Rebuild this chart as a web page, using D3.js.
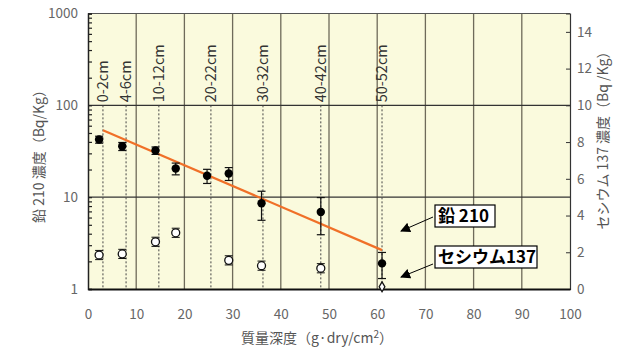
<!DOCTYPE html>
<html>
<head>
<meta charset="utf-8">
<script src="https://cdn.jsdelivr.net/npm/d3@7"></script>
<style>
  body { margin: 0; background: #fff; }
  text { font-family: "Noto Sans CJK JP", "Noto Sans", sans-serif; }
</style>
</head>
<body>
<script>
const width = 635;
const height = 352;
const margin = { top: 13.5, right: 65, bottom: 63, left: 88 };

// sampling depths (label + mass depth)
const depthLabels = ['0-2cm', '4-6cm', '10-12cm', '20-22cm', '30-32cm', '40-42cm', '50-52cm'];
const depthMass = [3.1, 7.9, 14.7, 25.5, 36.3, 48.3, 61.0];

// Pb-210 (left, log)
const pbMass = [2.3, 7.1, 14.0, 18.2, 24.7, 29.2, 36.0, 48.3, 61.0];
const pbValue = [42.4, 35.8, 32.2, 20.5, 17.1, 18.1, 8.6, 6.9, 1.9];
const pbError = [3.7, 3.6, 3.0, 3.0, 3.0, 2.9, 3.0, 3.0, 0.6];

// Cs-137 (right, linear)
const csMass = [2.3, 7.1, 14.0, 18.2, 29.2, 36.0, 48.3, 61.0];
const csValue = [1.85, 1.91, 2.57, 3.06, 1.56, 1.27, 1.13, 0.12];
const csError = [0.25, 0.25, 0.25, 0.25, 0.25, 0.25, 0.25, 0];

// Pb-210 fit line
const fitMass = [3.1, 61.0];
const fitValue = [53.5, 2.65];

const xTicks = [0, 10, 20, 30, 40, 50, 60, 70, 80, 90, 100];
const yLeftTicks = [1, 10, 100, 1000];
const yRightTicks = [0, 2, 4, 6, 8, 10, 12, 14];

const svg = d3.select('body').append('svg')
    .attr('width', width)
    .attr('height', height);

const x = d3.scaleLinear().domain([0, 100]).range([margin.left, width - margin.right]);
const yL = d3.scaleLog().domain([1, 1000]).range([height - margin.bottom, margin.top]);
const yR = d3.scaleLinear().domain([0, 15]).range([height - margin.bottom, margin.top]);

const x0 = margin.left, x1 = width - margin.right;
const y0 = height - margin.bottom, y1 = margin.top;

// plot background
svg.append('rect')
    .attr('x', x0).attr('y', y1)
    .attr('width', x1 - x0).attr('height', y0 - y1)
    .attr('fill', '#fafadd');

// vertical grid
svg.append('g').selectAll('line')
    .data(xTicks.filter(d => d > 0 && d < 100))
    .enter().append('line')
    .attr('x1', d => x(d)).attr('x2', d => x(d))
    .attr('y1', y1).attr('y2', y0)
    .attr('stroke', '#6e6a5a').attr('stroke-width', 1.3);

// horizontal grid
svg.append('g').selectAll('line')
    .data([10, 100])
    .enter().append('line')
    .attr('x1', x0).attr('x2', x1)
    .attr('y1', d => yL(d)).attr('y2', d => yL(d))
    .attr('stroke', '#333').attr('stroke-width', 1.2);

// dotted depth lines
svg.append('g').selectAll('line')
    .data(depthMass)
    .enter().append('line')
    .attr('x1', d => x(d)).attr('x2', d => x(d))
    .attr('y1', yL(100)).attr('y2', y0)
    .attr('stroke', '#444').attr('stroke-width', 1)
    .attr('stroke-dasharray', '2,2');

// depth labels
svg.append('g').selectAll('text')
    .data(depthLabels)
    .enter().append('text')
    .attr('transform', (d, i) => `translate(${x(depthMass[i]) + 5},${yL(100) - 3}) rotate(-90)`)
    .attr('font-size', 14.5)
    .attr('fill', '#333')
    .text(d => d);

// frame
svg.append('line').attr('x1', x0).attr('x2', x1).attr('y1', y1).attr('y2', y1)
    .attr('stroke', '#555').attr('stroke-width', 1);

// left axis
const logMinor = [];
[1, 10, 100].forEach(b => { for (let k = 2; k <= 9; k++) logMinor.push(b * k); });
const leftAxis = d3.axisRight(yL).tickValues(logMinor.concat(yLeftTicks)).tickSize(4).tickFormat('');
const gL = svg.append('g').attr('transform', `translate(${x0},0)`).call(leftAxis);
gL.select('.domain').attr('stroke', '#222').attr('stroke-width', 1.5);
gL.selectAll('.tick line').attr('stroke', '#222').attr('stroke-width', 1.2);
svg.append('g').selectAll('text')
    .data(yLeftTicks)
    .enter().append('text')
    .attr('x', x0 - 10).attr('y', d => yL(d))
    .attr('dy', '0.35em')
    .attr('text-anchor', 'end')
    .attr('font-size', 13.5)
    .attr('fill', '#666')
    .text(d => d);

// right axis
const rightAxis = d3.axisLeft(yR).tickValues(yRightTicks).tickSize(4).tickFormat('');
const gR = svg.append('g').attr('transform', `translate(${x1},0)`).call(rightAxis);
gR.select('.domain').attr('stroke', '#333').attr('stroke-width', 1.2);
gR.selectAll('.tick line').attr('stroke', '#333');
svg.append('g').selectAll('text')
    .data(yRightTicks)
    .enter().append('text')
    .attr('x', x1 + 7).attr('y', d => yR(d))
    .attr('dy', '0.35em')
    .attr('font-size', 13.5)
    .attr('fill', '#666')
    .text(d => d);

// bottom axis
const bottomAxis = d3.axisBottom(x).tickValues(xTicks).tickSize(0).tickPadding(20);
const gB = svg.append('g').attr('transform', `translate(0,${y0})`).call(bottomAxis);
gB.select('.domain').attr('stroke', '#111').attr('stroke-width', 2);
gB.selectAll('.tick text')
    .attr('font-size', 13.5)
    .attr('fill', '#666')
    .attr('font-family', '"Noto Sans CJK JP", sans-serif');

// axis titles
svg.append('text')
    .attr('x', 317).attr('y', 343)
    .attr('text-anchor', 'middle')
    .attr('font-size', 14)
    .attr('fill', '#555')
    .html('質量深度（g·dry/cm<tspan dy="-5" font-size="10">2</tspan><tspan dy="5">）</tspan>');

svg.append('text')
    .attr('transform', `translate(44,153) rotate(-90)`)
    .attr('text-anchor', 'middle')
    .attr('font-size', 14)
    .attr('fill', '#555')
    .text('鉛 210 濃度（Bq/Kg）');

svg.append('text')
    .attr('transform', `translate(608,137) rotate(-90)`)
    .attr('text-anchor', 'middle')
    .attr('font-size', 14)
    .attr('fill', '#555')
    .text('セシウム 137 濃度（Bq /Kg）');

// fit line
const fitLine = d3.line().x(d => x(d[0])).y(d => yL(d[1]));
svg.append('path')
    .datum(fitMass.map((m, i) => [m, fitValue[i]]))
    .attr('d', fitLine)
    .attr('fill', 'none')
    .attr('stroke', '#f07028')
    .attr('stroke-width', 2.2);

// Pb-210 error bars + points
const pb = pbMass.map((m, i) => ({ m, v: pbValue[i], e: pbError[i] }));
const gPb = svg.append('g');
pb.forEach(d => {
    const cx = x(d.m);
    const lo = yL(d.v - d.e), hi = yL(d.v + d.e);
    gPb.append('line').attr('x1', cx).attr('x2', cx).attr('y1', lo).attr('y2', hi)
        .attr('stroke', '#111').attr('stroke-width', 1.2);
    [lo, hi].forEach(yy => gPb.append('line')
        .attr('x1', cx - 4).attr('x2', cx + 4).attr('y1', yy).attr('y2', yy)
        .attr('stroke', '#111').attr('stroke-width', 1.2));
    gPb.append('circle').attr('cx', cx).attr('cy', yL(d.v)).attr('r', 4.2).attr('fill', '#000');
});

// Cs-137 error bars + points
const cs = csMass.map((m, i) => ({ m, v: csValue[i], e: csError[i] }));
const gCs = svg.append('g');
cs.forEach(d => {
    const cx = x(d.m);
    if (d.e > 0) {
        const lo = yR(d.v - d.e), hi = yR(d.v + d.e);
        gCs.append('line').attr('x1', cx).attr('x2', cx).attr('y1', lo).attr('y2', hi)
            .attr('stroke', '#111').attr('stroke-width', 1);
        [lo, hi].forEach(yy => gCs.append('line')
            .attr('x1', cx - 4).attr('x2', cx + 4).attr('y1', yy).attr('y2', yy)
            .attr('stroke', '#111').attr('stroke-width', 1));
    }
    const sym = d.v < 0.5 ? d3.symbol(d3.symbolDiamond, 28) : d3.symbol(d3.symbolCircle, 50);
    gCs.append('path')
        .attr('transform', `translate(${cx},${yR(d.v)})`)
        .attr('d', sym())
        .attr('fill', '#fff')
        .attr('stroke', '#111')
        .attr('stroke-width', 1.3);
});

// legend labels with arrows
svg.append('defs').append('marker')
    .attr('id', 'arr')
    .attr('viewBox', '0 0 10 10')
    .attr('refX', 9).attr('refY', 5)
    .attr('markerWidth', 10).attr('markerHeight', 10)
    .attr('markerUnits', 'userSpaceOnUse')
    .attr('orient', 'auto')
    .append('path').attr('d', 'M0,0 L10,5 L0,10 Z').attr('fill', '#000');

const legend = [
    { text: '鉛 210', bx: 435, by: 205, bw: 60, bh: 22, ax: 433, ay: 217, tx: 401, ty: 231 },
    { text: 'セシウム137', bx: 435, by: 246, bw: 102, bh: 22, ax: 433, ay: 264, tx: 401, ty: 277 }
];
legend.forEach(l => {
    svg.append('line')
        .attr('x1', l.ax).attr('y1', l.ay).attr('x2', l.tx).attr('y2', l.ty)
        .attr('stroke', '#000').attr('stroke-width', 1)
        .attr('marker-end', 'url(#arr)');
    svg.append('rect')
        .attr('x', l.bx).attr('y', l.by).attr('width', l.bw).attr('height', l.bh)
        .attr('fill', '#fff').attr('stroke', '#000').attr('stroke-width', 1.2);
    svg.append('text')
        .attr('x', l.bx + 3).attr('y', l.by + l.bh / 2)
        .attr('dy', '0.36em')
        .attr('font-size', 17)
        .attr('font-weight', 'bold')
        .attr('fill', '#000')
        .text(l.text);
});
</script>
</body>
</html>
